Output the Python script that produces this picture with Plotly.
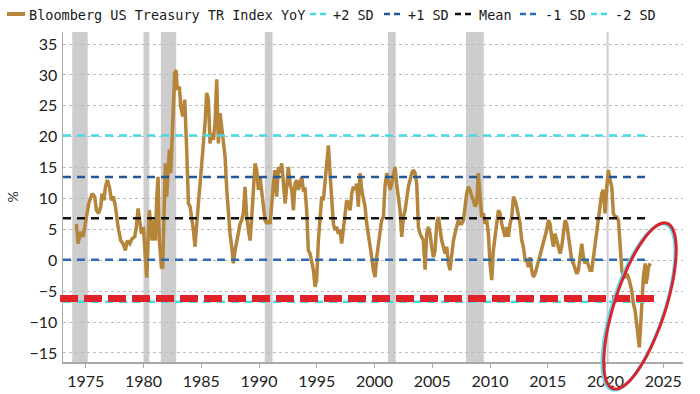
import numpy as np
import plotly.graph_objects as go

# ---------------- data ----------------
years = [
    1974.19, 1974.33, 1974.56, 1974.77, 1974.91, 1975.05, 1975.26, 1975.55, 1975.78, 1975.92,
    1976.12, 1976.30, 1976.41, 1976.58, 1976.70, 1976.87, 1977.05, 1977.22, 1977.39, 1977.57,
    1977.80, 1978.03, 1978.23, 1978.43, 1978.60, 1978.81, 1979.01, 1979.24, 1979.38, 1979.53,
    1979.67, 1979.82, 1979.99, 1980.16, 1980.28, 1980.39, 1980.51, 1980.63, 1980.74, 1980.91,
    1981.03, 1981.14, 1981.26, 1981.37, 1981.55, 1981.66, 1981.78, 1981.89, 1982.01, 1982.13,
    1982.24, 1982.36, 1982.47, 1982.59, 1982.70, 1982.82, 1982.93, 1983.11, 1983.22, 1983.40,
    1983.57, 1983.74, 1983.89, 1984.03, 1984.17, 1984.32, 1984.46, 1984.61, 1984.75, 1984.90,
    1985.04, 1985.18, 1985.33, 1985.47, 1985.62, 1985.76, 1985.91, 1986.05, 1986.19, 1986.34,
    1986.48, 1986.63, 1986.77, 1986.92, 1987.06, 1987.21, 1987.35, 1987.49, 1987.64, 1987.78,
    1987.93, 1988.07, 1988.21, 1988.36, 1988.50, 1988.65, 1988.79, 1988.94, 1989.08, 1989.23,
    1989.37, 1989.51, 1989.66, 1989.80, 1989.95, 1990.09, 1990.24, 1990.38, 1990.52, 1990.67,
    1990.81, 1990.96, 1991.10, 1991.25, 1991.39, 1991.53, 1991.68, 1991.82, 1991.97, 1992.11,
    1992.26, 1992.40, 1992.54, 1992.69, 1992.83, 1992.98, 1993.12, 1993.27, 1993.41, 1993.55,
    1993.70, 1993.84, 1993.99, 1994.13, 1994.27, 1994.42, 1994.56, 1994.71, 1994.85, 1994.99,
    1995.14, 1995.29, 1995.43, 1995.57, 1995.72, 1995.86, 1996.01, 1996.15, 1996.30, 1996.44,
    1996.58, 1996.73, 1996.87, 1997.02, 1997.16, 1997.31, 1997.45, 1997.59, 1997.74, 1997.88,
    1998.03, 1998.17, 1998.32, 1998.46, 1998.60, 1998.75, 1998.89, 1999.04, 1999.18, 1999.33,
    1999.47, 1999.61, 1999.76, 1999.90, 2000.05, 2000.19, 2000.33, 2000.48, 2000.62, 2000.77,
    2000.91, 2001.06, 2001.20, 2001.35, 2001.49, 2001.64, 2001.78, 2001.92, 2002.07, 2002.21,
    2002.36, 2002.50, 2002.65, 2002.79, 2002.93, 2003.08, 2003.22, 2003.37, 2003.51, 2003.66,
    2003.80, 2003.94, 2004.09, 2004.23, 2004.38, 2004.52, 2004.66, 2004.81, 2004.95, 2005.10,
    2005.24, 2005.39, 2005.53, 2005.68, 2005.82, 2005.96, 2006.11, 2006.25, 2006.40, 2006.54,
    2006.69, 2006.83, 2006.97, 2007.12, 2007.26, 2007.41, 2007.55, 2007.70, 2007.84, 2007.98,
    2008.13, 2008.27, 2008.42, 2008.56, 2008.71, 2008.85, 2008.99, 2009.14, 2009.28, 2009.43,
    2009.57, 2009.72, 2009.86, 2010.00, 2010.15, 2010.29, 2010.44, 2010.58, 2010.73, 2010.87,
    2011.02, 2011.16, 2011.30, 2011.45, 2011.59, 2011.74, 2011.88, 2012.03, 2012.17, 2012.31,
    2012.46, 2012.60, 2012.75, 2012.89, 2013.04, 2013.18, 2013.32, 2013.47, 2013.61, 2013.76,
    2013.90, 2014.05, 2014.19, 2014.33, 2014.48, 2014.62, 2014.77, 2014.91, 2015.06, 2015.20,
    2015.34, 2015.49, 2015.63, 2015.78, 2015.92, 2016.07, 2016.21, 2016.35, 2016.50, 2016.64,
    2016.79, 2016.93, 2017.08, 2017.22, 2017.36, 2017.51, 2017.65, 2017.80, 2017.94, 2018.09,
    2018.23, 2018.37, 2018.52, 2018.66, 2018.81, 2018.95, 2019.10, 2019.24, 2019.38, 2019.53,
    2019.67, 2019.82, 2019.96, 2020.11, 2020.25, 2020.39, 2020.54, 2020.68, 2020.83, 2020.97,
    2021.12, 2021.26, 2021.41, 2021.55, 2021.69, 2021.84, 2021.98, 2022.13, 2022.27, 2022.41,
    2022.56, 2022.70, 2022.85, 2022.93, 2023.05, 2023.14, 2023.28, 2023.43, 2023.51, 2023.62,
    2023.71, 2023.88,
]
yoy = [
    5.9, 2.7, 4.6, 3.8, 5.4, 7.0, 9.2, 10.8, 10.3, 8.1,
    7.6, 8.7, 10.8, 9.7, 11.9, 13.0, 11.9, 9.7, 10.3, 8.7,
    5.4, 3.2, 2.7, 1.6, 3.2, 2.7, 3.5, 3.8, 5.4, 8.4,
    6.5, 4.3, 5.4, 1.1, -2.8, 3.2, 8.1, 5.4, 3.2, 6.5,
    3.2, 9.7, 13.5, 3.2, -1.1, -1.3, 5.4, 15.7, 10.3, 14.6,
    17.9, 14.1, 19.5, 24.9, 30.3, 30.8, 27.6, 28.1, 24.9, 23.3,
    26.0, 17.9, 9.2, 8.7, 7.0, 4.9, 2.2, 6.5, 9.2, 12.4,
    15.7, 18.4, 22.2, 27.1, 26.0, 18.9, 20.6, 19.5, 22.2, 29.3,
    18.9, 23.8, 21.1, 19.5, 16.8, 11.4, 7.0, 4.3, 2.2, -0.5,
    1.6, 3.2, 4.3, 5.9, 6.5, 7.6, 11.9, 7.0, 4.9, 3.2,
    7.0, 11.4, 15.7, 14.6, 11.4, 13.5, 10.8, 8.1, 6.5, 5.9,
    6.5, 5.9, 9.7, 12.4, 14.6, 10.3, 15.1, 14.1, 15.7, 12.4,
    9.2, 11.9, 15.1, 12.4, 11.4, 8.1, 12.4, 13.0, 11.4, 12.4,
    13.5, 11.4, 11.5, 8.0, 1.6, 1.1, 0.0, -1.6, -4.3, -3.2,
    3.2, 7.0, 10.3, 9.7, 13.0, 15.1, 18.6, 14.1, 8.7, 5.9,
    4.9, 5.4, 4.3, 4.9, 2.7, 4.9, 7.0, 9.7, 9.2, 8.1,
    10.8, 11.9, 11.4, 12.4, 8.7, 14.1, 11.4, 9.7, 8.7, 5.9,
    4.3, 2.7, 0.5, -1.6, -2.7, 0.5, 2.7, 4.9, 6.5, 7.0,
    11.9, 14.1, 13.0, 11.4, 12.4, 14.1, 15.1, 12.4, 10.3, 8.1,
    3.8, 7.0, 8.1, 10.3, 11.9, 13.0, 14.1, 14.6, 14.1, 12.4,
    5.4, 4.3, 3.8, 3.2, -1.5, 4.3, 5.4, 4.3, 2.2, 0.5,
    1.6, 5.9, 7.0, 4.9, 3.2, 2.2, 1.1, 2.2, -0.5, -1.6,
    1.6, 3.2, 4.3, 5.4, 6.5, 5.9, 5.9, 6.5, 9.2, 10.8,
    11.9, 11.4, 10.3, 9.7, 8.7, 9.2, 14.1, 9.2, 7.0, 7.6,
    5.9, 6.5, 4.3, -0.5, -3.2, 1.6, 4.3, 5.9, 8.1, 7.6,
    5.9, 4.9, 3.8, 5.4, 3.8, 5.9, 7.0, 10.3, 9.7, 8.7,
    7.0, 5.9, 3.2, 2.2, 0.0, 0.0, -1.1, 0.5, -1.6, -2.7,
    -2.2, -1.1, 0.0, 0.5, 1.6, 2.7, 3.8, 4.9, 6.5, 5.9,
    3.8, 2.2, 4.3, 3.2, 2.2, 1.1, 2.2, 4.3, 6.5, 5.9,
    3.8, 1.6, 0.0, -0.5, -1.6, -2.2, -1.6, 0.5, 2.7, 0.5,
    -0.5, 0.0, -1.1, -1.6, -1.6, 0.5, 2.7, 4.3, 5.9, 8.4,
    10.8, 11.4, 7.6, 11.9, 14.6, 13.0, 11.9, 7.6, 7.0, 7.0,
    6.5, 2.7, -1.6, -2.7, -2.7, -2.2, -2.7, -3.8, -4.9, -7.0,
    -8.1, -10.3, -13.5, -14.1, -10.3, -6.0, -2.7, -0.5, -3.8, -2.7,
    -1.1, -0.5,
]

sd_names = ["+2 SD", "+1 SD", "Mean", "-1 SD", "-2 SD"]
sd_levels = [20.2, 13.5, 6.8, 0.1, -6.7]

recession_start = [1973.83, 1980.00, 1981.50, 1990.50, 2001.17, 2007.92, 2020.10]
recession_end = [1975.17, 1980.50, 1982.83, 1991.17, 2001.83, 2009.46, 2020.27]

threshold_level = -6.2
x_ticks = [1975, 1980, 1985, 1990, 1995, 2000, 2005, 2010, 2015, 2020, 2025]
series_name = "Bloomberg US Treasury TR Index YoY"

# ---------------- layout / style constants ----------------
W, H = 700, 394
ML, MR, MT, MB = 63, 17, 32, 32
PW, PH = W - ML - MR, H - MT - MB
X_RANGE = [1973.03, 2026.71]
Y_RANGE = [-16.46, 36.95]

BROWN = "#b5853c"
SD_COLORS = ["#45dbe3", "#22579a", "#111111", "#2d6cb4", "#45dbe3"]
MONO = "DejaVu Sans Mono"
SANS = "Lato"


def px_to_paper_x(px):
    return (px - ML) / PW


def px_to_paper_y(py):
    return (H - MB - py) / PH


fig = go.Figure()

fig.add_trace(go.Scatter(
    x=years, y=yoy, mode="lines", name=series_name,
    line=dict(color=BROWN, width=3.5), showlegend=False, hoverinfo="skip",
))

for name, lvl, col in zip(sd_names, sd_levels, SD_COLORS):
    fig.add_trace(go.Scatter(
        x=[X_RANGE[0], years[-1]], y=[lvl, lvl], mode="lines", name=name,
        line=dict(color=col, width=2.5, dash="8px,6px"), showlegend=False,
        hoverinfo="skip",
    ))

shapes = []
# recession bars
for s, e in zip(recession_start, recession_end):
    shapes.append(dict(type="rect", xref="x", yref="paper", x0=s, x1=e, y0=0, y1=1,
                       fillcolor="#cdcdcd", line=dict(width=0), layer="below"))

# thick red dashed threshold line
shapes.append(dict(type="line", xref="paper", yref="y", x0=px_to_paper_x(60),
                   x1=px_to_paper_x(658), y0=threshold_level, y1=threshold_level,
                   line=dict(color="#e0222a", width=7, dash="18px,6px"), layer="above"))


# hand-drawn ellipse (pixel geometry converted to paper coordinates)
def ellipse_path(cx, cy, a, b, phi_deg, n=140):
    phi = np.deg2rad(phi_deg)
    t = np.linspace(0, 2 * np.pi, n)
    u = b * np.cos(t)
    v = a * np.sin(t)
    px = cx + u * np.cos(phi) + v * np.sin(phi)
    py = cy + u * np.sin(phi) - v * np.cos(phi)
    pts = [f"{px_to_paper_x(x):.4f},{px_to_paper_y(y):.4f}" for x, y in zip(px, py)]
    return "M" + " L".join(pts) + " Z"


shapes.append(dict(type="path", xref="paper", yref="paper",
                   path=ellipse_path(638.5, 307, 87, 26, 18),
                   line=dict(color="#5fdfee", width=3)))
shapes.append(dict(type="path", xref="paper", yref="paper",
                   path=ellipse_path(640, 306, 87, 25.5, 18),
                   line=dict(color="#d8242c", width=3)))

# manual legend (symbols)
legend_y_px = 14
legend_items = [
    (series_name, BROWN, "solid", 4, 7, 25, 28),
    (sd_names[0], SD_COLORS[0], "6px,4px", 2.5, 310, 328, 332),
    (sd_names[1], SD_COLORS[1], "6px,4px", 2.5, 384, 403, 407),
    (sd_names[2], SD_COLORS[2], "6px,4px", 2.5, 455, 474, 478),
    (sd_names[3], SD_COLORS[3], "6px,4px", 2.5, 520, 540, 544),
    (sd_names[4], SD_COLORS[4], "6px,4px", 2.5, 591, 610, 614),
]
annotations = []
for text, col, dash, w, x0, x1, tx in legend_items:
    shapes.append(dict(type="line", xref="paper", yref="paper",
                       x0=px_to_paper_x(x0), x1=px_to_paper_x(x1),
                       y0=px_to_paper_y(legend_y_px), y1=px_to_paper_y(legend_y_px),
                       line=dict(color=col, width=w, dash=dash)))
    annotations.append(dict(text=text, xref="paper", yref="paper",
                            x=px_to_paper_x(tx), y=px_to_paper_y(legend_y_px + 0.5),
                            xanchor="left", yanchor="middle", showarrow=False,
                            borderpad=0,
                            font=dict(family=MONO, size=13.5, color="#1a1a1a")))

fig.update_layout(
    width=W, height=H,
    margin=dict(l=ML, r=MR, t=MT, b=MB, autoexpand=False),
    paper_bgcolor="white", plot_bgcolor="white",
    showlegend=False, hovermode=False,
    shapes=shapes, annotations=annotations,
    xaxis=dict(
        range=X_RANGE, tickmode="array", tickvals=x_ticks,
        showgrid=False, zeroline=False,
        showline=True, linecolor="#a9a9a9", linewidth=1.5,
        ticks="outside", ticklen=4, tickcolor="#a9a9a9",
        tickfont=dict(family=SANS, size=16, color="#222222"),
    ),
    yaxis=dict(
        range=Y_RANGE, dtick=5, tick0=0,
        showgrid=True, gridcolor="#bcbcbc", griddash="dot", gridwidth=1,
        zeroline=False,
        showline=True, linecolor="#a9a9a9", linewidth=1.5,
        ticks="", ticklabelstandoff=1,
        tickfont=dict(family=SANS, size=16, color="#222222"),
        title=dict(text="%", standoff=7, font=dict(family=SANS, size=14, color="#333333")),
        automargin=False,
    ),
)

fig.write_html(
    "out.html",
    config={"displayModeBar": False, "staticPlot": True},
    post_script="document.body.style.margin='0px';document.body.style.padding='0px';"
                "document.body.style.overflow='hidden';",
)
